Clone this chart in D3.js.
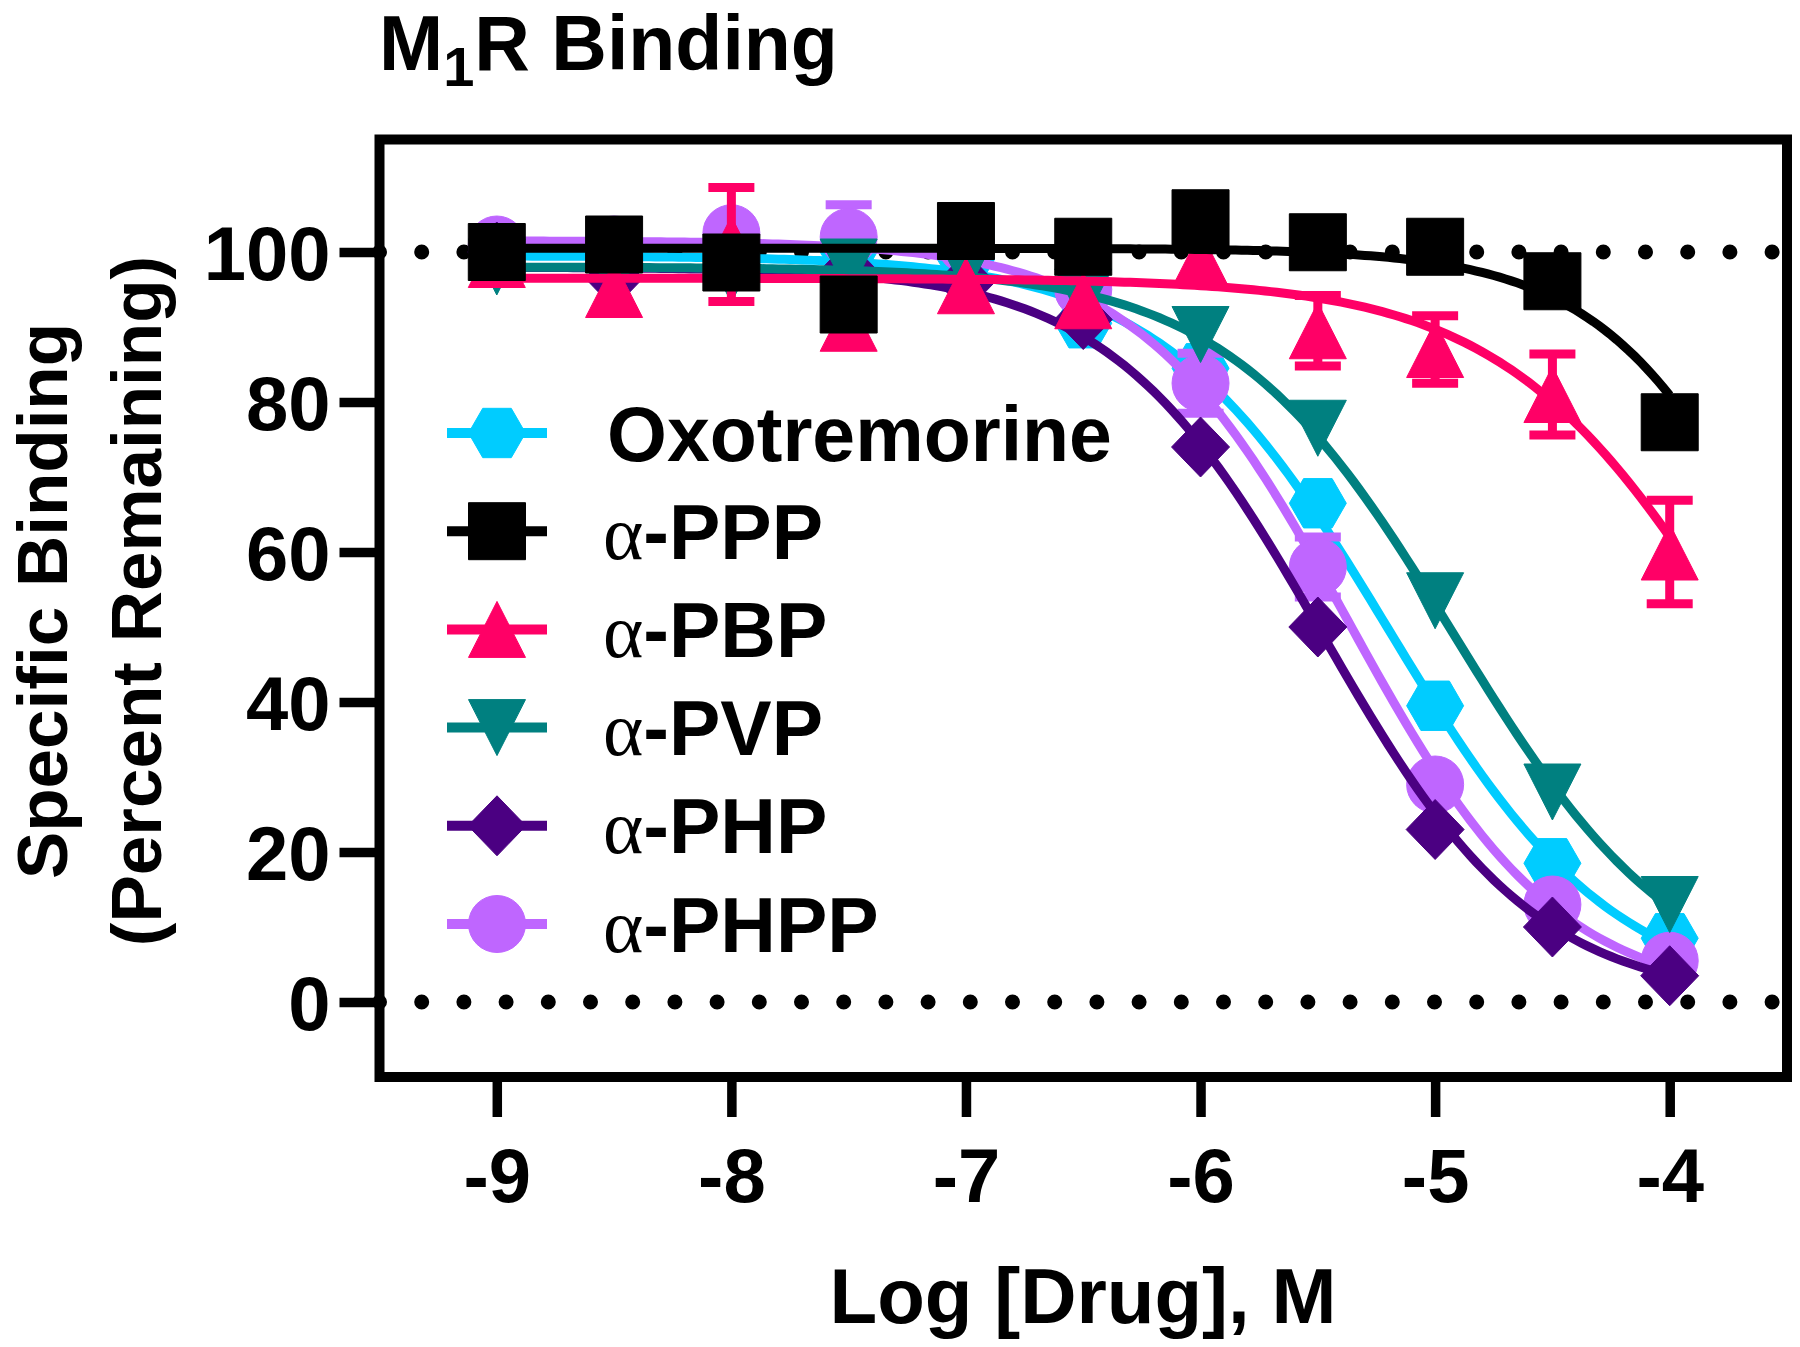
<!DOCTYPE html>
<html><head><meta charset="utf-8">
<script src="https://cdn.jsdelivr.net/npm/d3@7"></script>
<style>
body{margin:0;background:#fff;}
svg{display:block;}
text{font-family:'Liberation Sans',Arial,sans-serif;font-weight:bold;fill:#000;}
</style>
</head><body>
<svg id="chart" width="1800" height="1347"></svg>
<script>
// ---------- data ----------
const logDose = [-9, -8.5, -8, -7.5, -7, -6.5, -6, -5.5, -5, -4.5, -4];
const seriesNames = ["Oxotremorine", "PPP", "PBP", "PVP", "PHP", "PHPP"];
const oxoValues  = [100, 99, 100, 100, 99, 90.5, 84.5, 66.5, 39.5, 18.5, 8.5];
const pppValues  = [100, 101, 98.6, 93, 102.8, 100.7, 104.5, 101.3, 100.7, 96.1, 77.3];
const pbpValues  = [99, 95, 101, 90.5, 95.5, 93.5, 99, 89.5, 87, 81, 60];
const pvpValues  = [98, 97, 97, 98, 98, 94, 89, 76.5, 53.5, 28, 13];
const phpValues  = [100, 96.5, 98.3, 97.5, 96, 91, 74, 50, 23, 10, 3.5];
const phppValues = [101, 101, 102.5, 102, 101, 95, 82.5, 58, 29, 13, 5.5];
const oxoErrors  = [0, 0, 0, 0, 0, 0, 0, 0, 0, 0, 0];
const pppErrors  = [0, 0, 0, 0, 0, 0, 0, 0, 0, 0, 0];
const pbpErrors  = [0, 0, 7.6, 0, 0, 0, 0, 4.7, 4.5, 5.4, 6.9];
const pvpErrors  = [0, 0, 0, 0, 0, 0, 0, 0, 0, 0, 0];
const phpErrors  = [0, 0, 0, 0, 0, 0, 0, 0, 0, 0, 0];
const phppErrors = [0, 0, 0, 4.3, 0, 0, 4, 4, 0, 0, 0];
// fitted one-site competition curve parameters (Oxo, PPP, PBP, PVP, PHP, PHPP)
const fitTop     = [99.5, 100.5, 96.5, 98, 98, 101.5];
const fitBottom  = [0, 0, 0, 0, 0, 0];
const fitLogIC50 = [-5.2, -3.43, -3.705, -4.92, -5.48, -5.37];
const fitHill    = [0.9, 1.08, 0.865, 0.9, 0.96, 0.97];
const xTicks = [-9, -8, -7, -6, -5, -4];
const yTicks = [0, 20, 40, 60, 80, 100];
const refLines = [100, 0];

// ---------- styles ----------
const colors = ["#00CCFF", "#000000", "#FF0066", "#008080", "#4B0082", "#BF66FF"];
const shapes = ["hexagon", "square", "triangleUp", "triangleDown", "diamond", "circle"];
const drawOrder = [0, 5, 4, 3, 2, 1];
const valuesList = [oxoValues, pppValues, pbpValues, pvpValues, phpValues, phppValues];
const errorsList = [oxoErrors, pppErrors, pbpErrors, pvpErrors, phpErrors, phppErrors];

const svg = d3.select("#chart");
const x = d3.scaleLinear().domain([-9.5, -3.5]).range([379.5, 1787]);
const y = d3.scaleLinear().domain([-10, 115]).range([1077, 139.5]);

function shapePath(type) {
  const p = d3.path();
  if (type === "square") { p.rect(-28.5, -28.5, 57, 57); }
  else if (type === "circle") { p.arc(0, 0, 28.5, 0, 2 * Math.PI); }
  else if (type === "hexagon") {
    const r = 28.5, h = r * Math.sqrt(3) / 2;
    p.moveTo(-r, 0); p.lineTo(-r / 2, -h); p.lineTo(r / 2, -h); p.lineTo(r, 0);
    p.lineTo(r / 2, h); p.lineTo(-r / 2, h); p.closePath();
  }
  else if (type === "triangleUp") { p.moveTo(0, -28); p.lineTo(28.5, 28); p.lineTo(-28.5, 28); p.closePath(); }
  else if (type === "triangleDown") { p.moveTo(0, 28); p.lineTo(28.5, -28); p.lineTo(-28.5, -28); p.closePath(); }
  else if (type === "diamond") { p.moveTo(0, -30); p.lineTo(29, 0); p.lineTo(0, 30); p.lineTo(-29, 0); p.closePath(); }
  return p.toString();
}

// reference dotted lines
svg.append("g").selectAll("line").data(refLines).join("line")
  .attr("x1", x(-9.5)).attr("x2", x(-3.5))
  .attr("y1", d => y(d)).attr("y2", d => y(d))
  .attr("stroke", "#000").attr("stroke-width", 15)
  .attr("stroke-linecap", "round").attr("stroke-dasharray", "0 42.2");

// series
const curveX = d3.range(0, 201).map(i => -9 + i * 5 / 200);
drawOrder.forEach(si => {
  const g = svg.append("g");
  const col = colors[si];
  const fitY = xv => fitBottom[si] + (fitTop[si] - fitBottom[si]) / (1 + Math.pow(10, (xv - fitLogIC50[si]) * fitHill[si]));
  g.append("path")
    .attr("d", d3.line().x(d => x(d)).y(d => y(fitY(d)))(curveX))
    .attr("fill", "none").attr("stroke", col).attr("stroke-width", 9);
  const pts = logDose.map((d, i) => ({x: d, v: valuesList[si][i], e: errorsList[si][i]}));
  const eb = pts.filter(p => p.e > 0);
  const ebg = g.selectAll(".eb").data(eb).join("g").attr("stroke", col).attr("stroke-width", 9);
  ebg.append("line").attr("x1", p => x(p.x)).attr("x2", p => x(p.x))
    .attr("y1", p => y(p.v + p.e)).attr("y2", p => y(p.v - p.e));
  ebg.append("line").attr("x1", p => x(p.x) - 23).attr("x2", p => x(p.x) + 23)
    .attr("y1", p => y(p.v + p.e)).attr("y2", p => y(p.v + p.e));
  ebg.append("line").attr("x1", p => x(p.x) - 23).attr("x2", p => x(p.x) + 23)
    .attr("y1", p => y(p.v - p.e)).attr("y2", p => y(p.v - p.e));
  g.selectAll(".mk").data(pts).join("path")
    .attr("d", shapePath(shapes[si]))
    .attr("transform", p => `translate(${x(p.x)},${y(p.v)})`)
    .attr("fill", col).attr("stroke", col).attr("stroke-width", 1).attr("stroke-linejoin", "round");
});

// frame
svg.append("rect").attr("x", 379.5).attr("y", 139.5).attr("width", 1407.5).attr("height", 937.5)
  .attr("fill", "none").attr("stroke", "#000").attr("stroke-width", 10);

// axes
const yAxis = svg.append("g").attr("transform", "translate(379.5,0)")
  .call(d3.axisLeft(y).tickValues(yTicks).tickSize(40).tickPadding(9).tickFormat(d => String(d)));
yAxis.select(".domain").remove();
yAxis.selectAll(".tick line").attr("stroke", "#000").attr("stroke-width", 9.5);
yAxis.selectAll(".tick text").attr("font-size", 76).attr("dy", "0.36em")
  .style("font-family", "'Liberation Sans',Arial,sans-serif").style("font-weight", "bold");

const xAxis = svg.append("g").attr("transform", "translate(0,1077)")
  .call(d3.axisBottom(x).tickValues(xTicks).tickSize(40).tickPadding(31).tickFormat(d => String(d)));
xAxis.select(".domain").remove();
xAxis.selectAll(".tick line").attr("stroke", "#000").attr("stroke-width", 9.5);
xAxis.selectAll(".tick text").attr("font-size", 76)
  .style("font-family", "'Liberation Sans',Arial,sans-serif").style("font-weight", "bold");

// axis titles
svg.append("text").attr("x", 1083).attr("y", 1323).attr("text-anchor", "middle")
  .attr("font-size", 78).text("Log [Drug], M");
svg.append("text").attr("transform", "translate(67,601) rotate(-90)").attr("text-anchor", "middle")
  .attr("font-size", 71).text("Specific Binding");
svg.append("text").attr("transform", "translate(161,601) rotate(-90)").attr("text-anchor", "middle")
  .attr("font-size", 71).text("(Percent Remaining)");

// title
const title = svg.append("text").attr("x", 379).attr("y", 70).attr("font-size", 77);
title.append("tspan").text("M");
title.append("tspan").attr("font-size", 56).attr("dy", 16).text("1");
title.append("tspan").attr("dy", -16).text("R Binding");

// legend
const legend = svg.append("g");
seriesNames.forEach((name, i) => {
  const cy = 433 + i * 98.2;
  const col = colors[i];
  legend.append("line").attr("x1", 447).attr("x2", 547).attr("y1", cy).attr("y2", cy)
    .attr("stroke", col).attr("stroke-width", 10);
  legend.append("path").attr("d", shapePath(shapes[i])).attr("transform", `translate(497,${cy})`)
    .attr("fill", col).attr("stroke", col).attr("stroke-width", 1);
  const t = legend.append("text").attr("x", i === 0 ? 607 : 603).attr("y", cy + 27.5).attr("font-size", 77);
  if (i === 0) { t.text(name); }
  else {
    t.append("tspan").style("font-family", "'Liberation Serif','Times New Roman',serif")
      .style("font-weight", "normal").text("α");
    t.append("tspan").text("-" + name);
  }
});
</script>
</body></html>
